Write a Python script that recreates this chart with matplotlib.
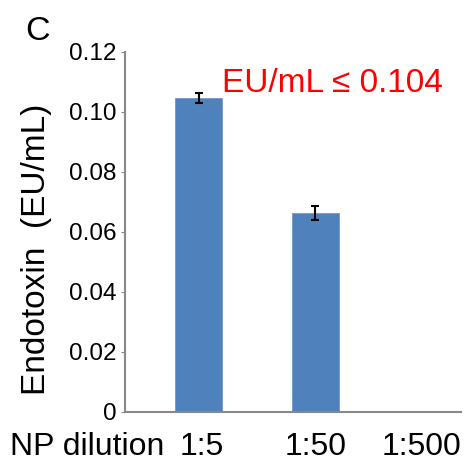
import matplotlib
matplotlib.use("Agg")
import matplotlib.pyplot as plt
from matplotlib.transforms import ScaledTranslation

categories = ["1:5", "1:50", "1:500"]
values = [0.1047, 0.0664, 0.0]
errors = [0.0016, 0.0024, 0.0]
yticks = [0, 0.02, 0.04, 0.06, 0.08, 0.10, 0.12]
ytick_labels = ["0", "0.02", "0.04", "0.06", "0.08", "0.10", "0.12"]

plt.rcParams['font.family'] = ['Liberation Sans', 'DejaVu Sans']

W, H = 470, 463
fig = plt.figure(figsize=(W/100, H/100), dpi=100)
ax = fig.add_axes([125/W, 1-412/H, (461-125)/W, (412-52)/H])

x = list(range(len(categories)))
ax.bar(x, values, width=0.4, color="#4f81bd", edgecolor="#6a8fbf", linewidth=0.5)
ax.errorbar(x[:2], values[:2], yerr=errors[:2], fmt="none", ecolor="black",
            elinewidth=1.5, capsize=3, capthick=1.5)

ax.set_xlim(-0.63, 2.25)
ax.set_ylim(0, 0.12)
ax.set_yticks(yticks)
ax.set_yticklabels(ytick_labels, fontsize=17.5)
ax.set_xticks(x)
ax.set_xticklabels(categories, fontsize=23)
ax.tick_params(axis='x', length=0, pad=14.5)
ax.tick_params(axis='y', length=3, color="#888888", pad=3)
for s in ["top", "right"]:
    ax.spines[s].set_visible(False)
for s in ["left", "bottom"]:
    ax.spines[s].set_color("#888888")
    ax.spines[s].set_linewidth(1.5)

# shift x labels so they sit like the reference
lbl = ax.get_xticklabels()[2]
lbl.set_transform(lbl.get_transform() + ScaledTranslation(-0.10, 0, fig.dpi_scale_trans))
lbl0 = ax.get_xticklabels()[0]
lbl0.set_transform(lbl0.get_transform() + ScaledTranslation(0.03, 0, fig.dpi_scale_trans))

fig.text(37/W, 1-249/H, "Endotoxin  (EU/mL)", fontsize=24, rotation=90,
         ha="center", va="center")
fig.text(10/W, 1-455/H, "NP dilution", fontsize=23, ha="left", va="baseline")
fig.text(222/W, 1-92/H, "EU/mL \u2264 0.104", color="red", fontsize=24,
         ha="left", va="baseline")
fig.text(25/W, 1-40/H, "C", fontsize=24.5, ha="left", va="baseline")

fig.savefig("out.png", dpi=100)
